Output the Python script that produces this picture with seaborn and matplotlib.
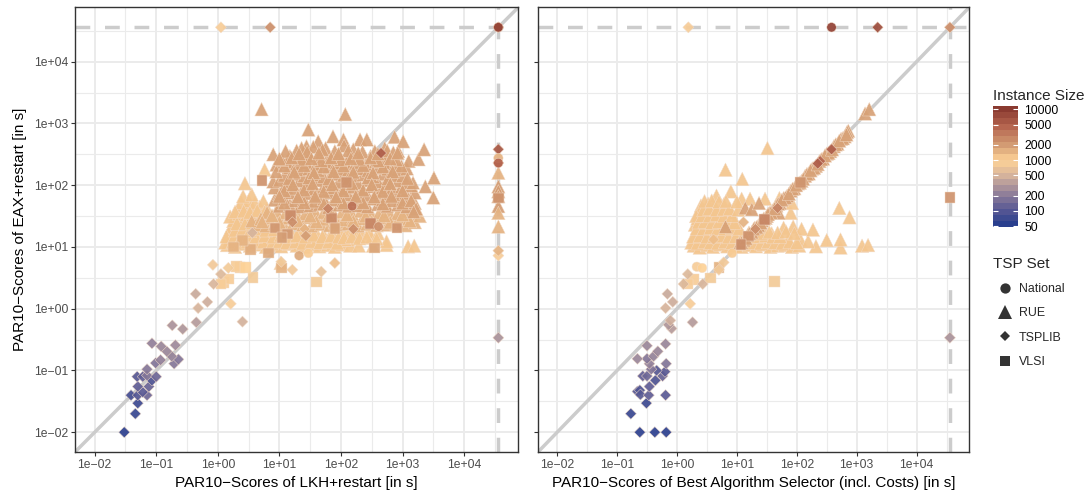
import numpy as np
import pandas as pd
import seaborn as sns
import matplotlib.pyplot as plt
from matplotlib.cm import ScalarMappable
from matplotlib.colors import LinearSegmentedColormap, LogNorm
from matplotlib.lines import Line2D
from matplotlib.ticker import FixedLocator, NullLocator

tick_values = [0.01, 0.1, 1, 10, 100, 1000, 10000]
tick_labels = ['1e\u221202', '1e\u221201', '1e+00', '1e+01', '1e+02', '1e+03', '1e+04']
minor_values = [0.00316, 0.0316, 0.316, 3.16, 31.6, 316, 3160, 31600]
timeout = 36000
size_ticks = [50, 100, 200, 500, 1000, 2000, 5000, 10000]
size_colors = ['#2a3f8e', '#5b5a94', '#8f7e99', '#d6b49c', '#fdd297', '#d49d74', '#b5654f', '#8a3a30']

# left panel, RUE
l_rue_1000_x = [.15, .28, .40, .52, .65, .78, .90, 1.03, 1.15, 1.28, 1.40, 1.53, 1.65, 1.78, 1.90, 2.02, 2.15,
                .20, .33, .45, .58, .72, .85, .98, 1.10, 1.22, 1.35, 1.48, 1.60, 1.73, 1.85, 1.98, 2.12,
                .17, .30, .42, .55, .68, .80, .93, 1.06, 1.20, 1.33, 1.47, 1.60, 1.72, 1.85, 2.00, 2.22,
                .22, .35, .48, .60, .73, .87, 1.00,
                .25, .38, .50, .62, .76, .90,
                .20, .34, .46, .58, .70, .83,
                .33, .45, .55, .68, .80,
                .38, .50, .60, .74,
                .41, .55, .44, .76, 2.29, 2.52, 2.74, 3.09, 3.19, 2.07, 2.50, 2.74, 1.02,
                .12, .24, .36, .48, .60, .74, .88, 1.00, 1.12, 1.26, 1.38, 1.52, 1.66, 1.80, 1.94,
                .14, .27, .38, .50, .62, .76, .90, 1.02, 1.16, 1.28, 1.42, 1.56, 1.70, 1.84, 1.96,
                .28, .40, .52, .66, .78, .92, .31, .44, .56, .70, .82, .28, .42, .52, .64, .76,
                2.10, 2.20, 2.32, 2.45, 2.60, 2.05, 2.18, 2.30, 2.42, 2.58]
l_rue_1000_y = [1.03, 1.00, 1.05, 1.02, 1.04, 1.00, 1.03, 1.01, 1.05, 1.02, 1.00, 1.04, 1.01, 1.03, 1.00, 1.04, 1.02,
                1.12, 1.14, 1.10, 1.13, 1.11, 1.15, 1.12, 1.10, 1.14, 1.12, 1.15, 1.10, 1.13, 1.11, 1.14, 1.12,
                1.22, 1.20, 1.24, 1.21, 1.25, 1.22, 1.20, 1.24, 1.22, 1.25, 1.21, 1.23, 1.20, 1.24, 1.22, 1.21,
                1.32, 1.34, 1.30, 1.33, 1.31, 1.35, 1.32,
                1.42, 1.44, 1.41, 1.45, 1.42, 1.44,
                1.49, 1.54, 1.52, 1.55, 1.51, 1.54,
                1.62, 1.64, 1.61, 1.65, 1.62,
                1.72, 1.75, 1.71, 1.74,
                1.82, 1.85, 2.03, 2.25, 1.02, 1.02, 1.03, 1.01, 1.02, 1.12, 1.15, 1.09, .74,
                1.07, 1.08, 1.06, 1.09, 1.07, 1.08, 1.06, 1.09, 1.07, 1.08, 1.06, 1.09, 1.07, 1.08, 1.06,
                1.17, 1.18, 1.16, 1.19, 1.17, 1.18, 1.16, 1.19, 1.17, 1.18, 1.16, 1.19, 1.17, 1.18, 1.16,
                1.27, 1.28, 1.26, 1.29, 1.27, 1.28, 1.38, 1.37, 1.39, 1.38, 1.37, 1.57, 1.58, 1.56, 1.59, 1.57,
                1.24, 1.26, 1.23, 1.25, 1.22, 1.15, 1.17, 1.14, 1.16, 1.13]
l_rue_1500_x = [.62, .78, .92, 1.08, 1.22, 1.38, 1.52, 1.68, 1.82, 1.98, 2.12, 2.28, 2.42, 2.58, 2.75, 2.90, 3.05, 3.20,
                .55, .70, .85, 1.00, 1.15, 1.30, 1.45, 1.60, 1.75, 1.90, 2.05, 2.20, 2.35, 2.50, 2.65, 2.80, 2.95, 3.10, 3.28,
                .80, .95, 1.10, 1.27, 1.42, 1.58, 1.72, 1.88, 2.02, 2.18, 2.32, 2.48, 2.62, 2.78, 2.92, 3.08, 3.22,
                .72, 1.00, 1.30, 1.60, 1.90, 2.20, 2.50, 2.80, 3.12, .88, 1.18, 1.50, 1.80, 2.10, 2.40, 2.70, 3.00]
l_rue_1500_y = [1.36, 1.34, 1.37, 1.35, 1.38, 1.36, 1.34, 1.37, 1.35, 1.36, 1.38, 1.34, 1.37, 1.35, 1.36, 1.38, 1.35, 1.40,
                1.42, 1.46, 1.48, 1.45, 1.47, 1.44, 1.48, 1.46, 1.45, 1.47, 1.44, 1.48, 1.46, 1.45, 1.47, 1.44, 1.48, 1.46, 1.50,
                1.56, 1.58, 1.55, 1.57, 1.54, 1.58, 1.56, 1.55, 1.57, 1.54, 1.58, 1.56, 1.55, 1.57, 1.54, 1.58, 1.60,
                1.41, 1.40, 1.42, 1.41, 1.40, 1.42, 1.41, 1.40, 1.42, 1.51, 1.52, 1.50, 1.51, 1.52, 1.50, 1.51, 1.52]
l_rue_2000_x = [1.00, 1.17, 1.33, 1.50, 1.65, 1.80, 1.97, 2.12, 2.28, 2.43, 2.60, 2.75, 2.92, 3.07, 3.20,
                .92, 1.08, 1.25, 1.40, 1.57, 1.72, 1.88, 2.03, 2.20, 2.35, 2.52, 2.67, 2.83, 3.00, 3.13,
                1.00, 1.16, 1.32, 1.48, 1.63, 1.80, 1.95, 2.12, 2.27, 2.43, 2.58, 2.75, 2.90, 3.05, 3.20,
                .92, 1.08, 1.24, 1.40, 1.56, 1.72, 1.88, 2.04, 2.20, 2.35, 2.50, 2.67, 2.83, 2.98, 3.14, 3.37,
                .90, 1.00, 1.16, 1.32, 1.48, 1.63, 1.80, 1.96, 2.12, 2.28, 2.44, 2.60, 2.76, 2.92, 3.07, 3.17,
                1.08, 1.24, 1.40, 1.56, 1.72, 1.88, 2.04, 2.20, 2.36, 2.52, 2.68, 2.84, 3.00, 3.51,
                .95, 1.16, 1.32, 1.48, 1.63, 1.80, 1.96, 2.12, 2.28, 2.44, 2.60, 2.76, 2.92, 3.07,
                .95, 1.12, 1.28, 1.44, 1.60, 1.76, 1.92, 2.08, 2.24, 2.40, 2.56, 2.72, 2.88, 3.10,
                .90, 1.17, 1.30, 1.48, 1.65, 1.82, 1.98, 2.14, 2.30, 2.48, 2.70, 2.93, 3.26,
                1.44, 1.47, 1.63, 1.87, 2.04, 2.31, 2.42, 2.71, 2.87, 3.01, 1.36, 1.55, 1.75, 2.05, 2.20,
                3.50, .71, 2.07, 3.35,
                1.08, 1.40, 1.72, 2.04, 2.36, 2.68, 3.00, 1.08, 1.40, 1.72, 2.04, 2.36, 2.68, 3.00,
                1.16, 1.48, 1.80, 2.12, 2.44, 2.76, 3.08, 1.08, 1.40, 1.72, 2.04, 2.36, 2.68, 2.98,
                1.04, 1.36, 1.68, 2.00, 2.30, 2.60, 2.90, 1.10, 1.28, 1.45, 1.70, 1.90, 2.12, 2.35, 2.55, 2.75, 2.85,
                1.24, 1.56, 1.88, 2.20, 2.52, 2.84, 1.00, 1.20, 1.52, 1.84, 2.16, 2.48, 2.80, 1.32, 1.64, 1.96, 2.28, 2.60, 2.92,
                1.22, 1.54, 1.86, 2.18, 2.50, 2.80, 1.00, 1.30, 1.58, 1.92, 2.24, 2.54, 2.82, 3.14, 3.22, 3.18]
l_rue_2000_y = [1.66, 1.68, 1.65, 1.67, 1.69, 1.64, 1.68, 1.66, 1.67, 1.65, 1.69, 1.66, 1.68, 1.65, 1.71,
                1.76, 1.78, 1.75, 1.77, 1.74, 1.78, 1.76, 1.75, 1.77, 1.74, 1.78, 1.76, 1.75, 1.77, 1.79,
                1.86, 1.88, 1.85, 1.87, 1.84, 1.88, 1.86, 1.85, 1.87, 1.84, 1.88, 1.86, 1.85, 1.87, 1.88,
                1.96, 1.98, 1.95, 1.97, 1.94, 1.98, 1.96, 1.95, 1.97, 1.94, 1.98, 1.96, 1.95, 1.97, 1.99, 1.98,
                2.06, 2.08, 2.05, 2.07, 2.04, 2.08, 2.06, 2.05, 2.07, 2.04, 2.08, 2.06, 2.05, 2.07, 2.04, 2.04,
                2.16, 2.18, 2.15, 2.17, 2.14, 2.18, 2.16, 2.15, 2.17, 2.14, 2.18, 2.16, 2.15, 2.12,
                2.33, 2.28, 2.25, 2.27, 2.24, 2.28, 2.26, 2.25, 2.27, 2.24, 2.28, 2.26, 2.25, 2.27,
                2.22, 2.38, 2.35, 2.37, 2.34, 2.38, 2.36, 2.35, 2.37, 2.34, 2.38, 2.36, 2.35, 2.39,
                2.50, 2.47, 2.45, 2.48, 2.46, 2.44, 2.48, 2.46, 2.45, 2.47, 2.46, 2.55, 2.42,
                2.63, 2.90, 2.71, 2.79, 2.74, 2.74, 2.74, 2.60, 2.78, 2.71, 2.60, 2.62, 2.60, 2.64, 2.58,
                1.80, 3.23, 3.15, 2.58,
                1.71, 1.72, 1.70, 1.71, 1.72, 1.70, 1.71, 1.91, 1.92, 1.90, 1.91, 1.92, 1.90, 1.91,
                2.11, 2.12, 2.10, 2.11, 2.12, 2.10, 2.11, 2.31, 2.32, 2.30, 2.31, 2.32, 2.30, 2.31,
                2.41, 2.42, 2.40, 2.41, 2.42, 2.40, 2.41, 2.55, 2.56, 2.54, 2.57, 2.55, 2.56, 2.54, 2.55, 2.56, 2.53,
                2.21, 2.20, 2.22, 2.21, 2.20, 2.22, 2.43, 2.44, 2.43, 2.44, 2.43, 2.44, 2.43, 2.51, 2.52, 2.51, 2.52, 2.51, 2.52,
                2.01, 2.02, 2.01, 2.02, 2.01, 2.02, 1.82, 1.81, 1.82, 1.81, 1.82, 1.81, 1.82, 1.75, 1.62, 1.57]
l_rue_col_y = [2.20, 1.98, 1.90, 1.82, 1.66, 1.55, 1.33]
l_rue_col_size = [1500, 2000, 2000, 2000, 2000, 1500, 1500]

# left panel, other sets
l_tsp_x = [-1.52, -1.34, -1.30, -1.41, -1.30, -1.15, -1.22, -1.30, -1.12, -1.07, -1.31, -1.22, -1.15, -1.00, -1.15,
           -1.01, -.93, -.71, -.64, -.75, -.83, -.92, -1.07, -.69, -.74, -.57, -.35, .40, -.32, -.17, -.36, .21,
           -.07, .05, -.08, .17, 1.03, 1.21, 1.68, 1.90, 1.79, 1.21, 1.41, 2.20, 1.43, .56, 2.65,
           4.556, 4.556, 4.556, 4.556, 4.556, .05, .85, 4.556]
l_tsp_y = [-2.00, -1.70, -1.53, -1.40, -1.40, -1.40, -1.35, -1.26, -1.26, -1.16, -1.10, -1.10, -1.08, -1.10, -.98,
           -.88, -.83, -.89, -.82, -.77, -.69, -.61, -.56, -.59, -.27, -.33, -.22, -.21, .01, .11, .24, .08,
           .40, .56, .71, .66, .76, .63, .60, .74, 1.62, 1.40, 1.29, 1.29, 1.18, 1.23, 2.52,
           -.47, .86, .94, 2.58, 2.36, 4.556, 4.556, 4.556]
l_tsp_size = [52, 62, 66, 75, 90, 130, 100, 110, 120, 85, 95, 110, 170, 130, 180,
              170, 210, 180, 170, 220, 230, 230, 210, 240, 290, 300, 330, 480, 500, 450, 420, 900,
              520, 560, 800, 850, 800, 800, 700, 1300, 3000, 2500, 1500, 2500, 2000, 500, 5500,
              280, 900, 1500, 6500, 5500, 900, 2500, 8000]
l_vlsi_x = [.72, 2.09, 1.18, 1.85, 2.48, 2.91, .93, 1.13, 1.90, 1.04, .36, .09, .18, .57, 1.60, 1.03, 2.54, .53, .82, .30, .45, .40, .25, .05, 4.556]
l_vlsi_y = [2.08, 2.04, 1.51, 1.47, 1.38, 1.31, 1.31, 1.21, 1.30, 1.15, .67, .42, .48, .51, .43, .66, .98, .96, .90, .68, .67, 1.10, 1.00, .40, 1.79]
l_vlsi_size = [2300, 2300, 2700, 2700, 2900, 2300, 2100, 2100, 1900, 2000, 900, 900, 900, 850, 850, 1500, 1800, 1600, 1700, 900, 1000, 1500, 1500, 900, 2300]
l_nat_x = [2.18, 2.61, 1.32, 1.47, 4.556, 4.556, 4.556, 4.556]
l_nat_y = [1.66, 1.33, .86, .90, 2.44, 2.36, 4.556, 4.556]
l_nat_size = [4000, 2400, 1700, 1100, 1500, 5000, 10000, 9000]

# right panel, RUE
r_rue_1000_x = [.28, .38, .50, .60, .72, .84, .96, 1.08, 1.20, 1.32, 1.44, 1.56, 1.68, 1.80, 1.92, 2.04, 2.32, 2.73, 3.09, 3.19,
                .30, .42, .54, .65, .77, .90, 1.02, 1.14, 1.27, 1.38, 1.50, 1.62, 1.74, 1.86, 2.06, 2.19, 2.50, 2.73,
                .33, .44, .56, .68, .80, .94, 1.06, 1.20, 1.33, 1.46, 1.58, 1.78, 1.94, 2.08, 2.27,
                .30, .40, .50, .62, .74, .88, 1.00,
                .34, .46, .56, .70, .82,
                .36, .48, .60, .72, .90, 1.90,
                .40, .52, .62, .78, 1.08, 1.22, 1.47, 1.71, 1.92,
                .66, .90, 1.09, .81, 1.51, 2.71, 2.88,
                .24, .34, .46, .56, .68, .80, .92, 1.04, 1.16, 1.28, 1.40, 1.52, 1.64, 1.76, 1.88, 2.00,
                .27, .38, .50, .62, .74, .86, .98, 1.10, 1.22, 1.34, 1.48, 1.60, 1.72,
                .33, .44, .56, .68, .80, .92, 1.04, .37, .48, .60, .72, .84, .40, .50, .64, .76,
                .36, .46, .58, .70, .84, .96, .32, .42, .54, .66, .78, .92, .44, .54, .66, .78, .88, 1.02,
                .46, .58, .70, .82, 1.00, 1.40, 1.54, 1.68, 1.82, 1.96]
r_rue_1000_y = [1.02, .99, 1.03, 1.00, 1.04, 1.01, 1.02, 1.00, 1.03, 1.01, 1.04, 1.00, 1.02, 1.03, 1.00, 1.02, 1.01, .99, 1.02, 1.03,
                1.12, 1.10, 1.14, 1.11, 1.13, 1.10, 1.14, 1.12, 1.10, 1.13, 1.11, 1.14, 1.10, 1.12, 1.12, 1.09, 1.11, 1.12,
                1.22, 1.25, 1.21, 1.24, 1.22, 1.25, 1.20, 1.23, 1.21, 1.24, 1.22, 1.31, 1.33, 1.29, 1.28,
                1.36, 1.34, 1.38, 1.35, 1.37, 1.33, 1.36,
                1.46, 1.48, 1.44, 1.47, 1.45,
                1.55, 1.57, 1.54, 1.58, 1.56, 1.55,
                1.67, 1.70, 1.66, 1.69, 1.78, 1.78, 1.78, 1.79, 1.71,
                1.83, 1.90, 2.10, 2.25, 2.60, 1.63, 1.48,
                1.07, 1.06, 1.08, 1.07, 1.06, 1.08, 1.07, 1.06, 1.08, 1.07, 1.06, 1.08, 1.07, 1.06, 1.08, 1.07,
                1.17, 1.18, 1.16, 1.17, 1.18, 1.16, 1.17, 1.18, 1.16, 1.17, 1.18, 1.16, 1.17,
                1.30, 1.29, 1.31, 1.30, 1.29, 1.31, 1.30, 1.41, 1.40, 1.42, 1.41, 1.40, 1.61, 1.62, 1.60, 1.61,
                1.40, 1.41, 1.39, 1.41, 1.40, 1.39, 1.50, 1.51, 1.50, 1.52, 1.50, 1.51, 1.60, 1.62, 1.60, 1.61, 1.62, 1.60,
                1.74, 1.75, 1.73, 1.74, 1.73, 1.22, 1.24, 1.23, 1.25, 1.22]
r_rue_2000_x = [1.05, 1.12, 1.18, 1.25, 1.30, 1.36, 1.42, 1.48, 1.54, 1.60, 1.66, 1.72, 1.78, 1.84, 1.90, 1.96, 2.02, 2.08,
                2.14, 2.20, 2.26, 2.32, 2.38, 2.44, 2.50, 2.56, 2.62, 2.68, 2.74, 2.80, 2.86, 3.14, 3.21,
                1.14, 1.25, 1.37, .81, 1.50, 1.70,
                1.08, 1.21, 1.33, 1.45, 1.57, 1.69, 1.81, 1.93, 2.05, 2.17, 2.29, 2.41, 2.53, 2.65, 2.77, 2.84,
                1.15, 1.28, 1.40, 1.52, 1.63, 1.75, 1.87, 1.99, 2.11, 2.23, 2.35, 2.47, 2.59, 2.71, 2.83]
r_rue_2000_y = [1.06, 1.11, 1.19, 1.24, 1.31, 1.35, 1.43, 1.47, 1.55, 1.59, 1.67, 1.71, 1.79, 1.83, 1.91, 1.95, 2.03, 2.07,
                2.15, 2.19, 2.27, 2.31, 2.39, 2.43, 2.51, 2.55, 2.63, 2.67, 2.75, 2.79, 2.88, 3.16, 3.23,
                1.63, 1.61, 1.71, 1.33, 1.50, 1.55,
                1.07, 1.22, 1.32, 1.46, 1.56, 1.70, 1.80, 1.94, 2.04, 2.18, 2.28, 2.42, 2.52, 2.66, 2.76, 2.86,
                1.14, 1.29, 1.39, 1.53, 1.62, 1.76, 1.86, 2.00, 2.10, 2.24, 2.34, 2.48, 2.58, 2.72, 2.82]

# right panel, other sets
r_tsp_x = [-.62, -.37, -.18, -.77, -.51, -.66, -.62, -.61, -.47, -.19, -.46, -.36, -.57, -.50, -.24, -.20, -.34, -.43,
           -.18, -.46, -.50, -.66, -.39, -.32, -.50, -.19, -.09, -.14, -.11, .26, -.19, -.07, -.16, .22, .43, .11, .18,
           .70, .78, 2.58, 2.39, 2.35, 1.68, 1.31, .61, 1.11, .19, 3.35, 4.556, 4.556]
r_tsp_y = [-2.00, -2.00, -2.00, -1.70, -1.53, -1.34, -1.32, -1.39, -1.40, -1.40, -1.26, -1.16, -1.09, -1.09, -1.09, -1.02, -1.00, -.98,
           -.89, -.89, -.81, -.81, -.77, -.69, -.60, -.57, -.32, -.26, -.19, -.22, .01, .11, .24, .08, .40, .40, .56,
           .63, .75, 2.58, 2.39, 2.35, 1.63, 1.29, 1.12, 1.40, 4.556, 4.556, 4.556, -.47]
r_tsp_size = [52, 52, 52, 62, 66, 90, 85, 95, 110, 100, 110, 85, 110, 130, 120, 100, 95, 170,
              170, 210, 180, 230, 220, 230, 230, 230, 330, 300, 450, 330, 500, 450, 420, 900, 520, 560, 560,
              800, 800, 5500, 5000, 5500, 3000, 2500, 1300, 1500, 900, 8000, 2500, 280]
r_vlsi_x = [.56, .28, .18, 1.63, .70, 2.06, 1.46, 1.19, 1.07, 4.556]
r_vlsi_y = [.50, .47, .40, .44, .67, 2.04, 1.44, 1.18, 1.04, 1.80]
r_vlsi_size = [850, 900, 900, 850, 1500, 2300, 2900, 2300, 2500, 2300]
r_nat_x = [.33, .42, .92, 2.58]
r_nat_y = [.68, .66, .90, 4.556]
r_nat_size = [900, 1000, 1100, 10000]

marker_map = {'National': 'o', 'RUE': '^', 'TSPLIB': 'D', 'VLSI': 's'}
size_map = {'National': 46, 'RUE': 95, 'TSPLIB': 32, 'VLSI': 58}
legend_sizes = {'National': 7.4, 'RUE': 9.4, 'TSPLIB': 5.0, 'VLSI': 7.2}


def frame(x, y, size, tsp):
    return pd.DataFrame({'x': 10 ** np.array(x, dtype=float), 'y': 10 ** np.array(y, dtype=float),
                         'size': size, 'set': tsp})


left = pd.concat([
    frame(l_rue_1000_x, l_rue_1000_y, 1150, 'RUE'),
    frame(l_rue_1500_x, l_rue_1500_y, 1500, 'RUE'),
    frame(l_rue_2000_x, l_rue_2000_y, 1850, 'RUE'),
    frame([4.556] * len(l_rue_col_y), l_rue_col_y, l_rue_col_size, 'RUE'),
    frame(l_vlsi_x, l_vlsi_y, l_vlsi_size, 'VLSI'),
    frame(l_tsp_x, l_tsp_y, l_tsp_size, 'TSPLIB'),
    frame(l_nat_x, l_nat_y, l_nat_size, 'National'),
])
right = pd.concat([
    frame(r_rue_1000_x, r_rue_1000_y, 1150, 'RUE'),
    frame(r_rue_2000_x, r_rue_2000_y, 1850, 'RUE'),
    frame(r_vlsi_x, r_vlsi_y, r_vlsi_size, 'VLSI'),
    frame(r_tsp_x, r_tsp_y, r_tsp_size, 'TSPLIB'),
    frame(r_nat_x, r_nat_y, r_nat_size, 'National'),
])

sns.set_style('white')
plt.rcParams['font.family'] = ['Liberation Sans', 'DejaVu Sans']

W, H = 1089, 493
size_lo, size_hi = 48, 11650
size_norm = LogNorm(size_lo, size_hi)
cmap = LinearSegmentedColormap.from_list(
    'tsp', [(float(size_norm(0.0 + v)), c) for v, c in zip([size_lo] + size_ticks[1:-1] + [size_hi], size_colors)])

fig = plt.figure(figsize=(W / 100, H / 100), dpi=100)
ax1 = fig.add_axes([75 / W, 41 / H, 443 / W, 445 / H])
ax2 = fig.add_axes([538 / W, 41 / H, 431 / W, 445 / H])

for ax, data in [(ax1, left), (ax2, right)]:
    ax.set_xscale('log')
    ax.set_yscale('log')
    sns.scatterplot(data=data, x='x', y='y', hue='size', hue_norm=size_norm, palette=cmap,
                    style='set', markers=marker_map, size='set', sizes=size_map,
                    alpha=0.93, linewidth=0.35, edgecolor='#f3dcc8', legend=False, ax=ax, zorder=3)
    ax.set_xlim(10 ** -2.32, 10 ** 4.875)
    ax.set_ylim(10 ** -2.32, 10 ** 4.885)
    ax.plot([1e-3, 1e6], [1e-3, 1e6], color='#cccccc', lw=2.5, zorder=2)
    ax.axhline(timeout, color='#cccccc', lw=2.5, dashes=(4.25, 4.25), zorder=2)
    ax.axvline(timeout, color='#cccccc', lw=2.5, dashes=(4.25, 4.25), zorder=2)
    for axis in (ax.xaxis, ax.yaxis):
        axis.set_major_locator(FixedLocator(tick_values))
        axis.set_minor_locator(FixedLocator(minor_values))
    ax.set_xticklabels(tick_labels)
    ax.set_yticklabels(tick_labels)
    ax.grid(True, which='major', color='#ebebeb', lw=1.4)
    ax.grid(True, which='minor', color='#ebebeb', lw=0.8)
    ax.set_axisbelow(True)
    ax.tick_params(which='major', length=3, width=0.8, color='#333333', labelcolor='#4d4d4d',
                   labelsize=8.7, left=True, bottom=True, pad=2)
    ax.tick_params(which='minor', length=0)
    for spine in ax.spines.values():
        spine.set_color('#333333')
        spine.set_linewidth(1.0)

ax2.tick_params(axis='y', labelleft=False)
ax1.set_xlabel('PAR10\u2212Scores of LKH+restart [in s]', fontsize=11, color='black', labelpad=3.5)
ax2.set_xlabel('PAR10\u2212Scores of Best Algorithm Selector (incl. Costs) [in s]', fontsize=11, color='black', labelpad=3.5)
ax1.set_ylabel('PAR10\u2212Scores of EAX+restart [in s]', fontsize=11, color='black', labelpad=4.5)
ax2.set_ylabel('')

# colour bar with white ticks inside
cax = fig.add_axes([993 / W, (H - 227) / H, 25 / W, 121 / H])
cb = fig.colorbar(ScalarMappable(norm=size_norm, cmap=cmap.resampled(20)), cax=cax)
cb.outline.set_visible(False)
cb.set_ticks(size_ticks)
cb.set_ticklabels([str(v) for v in size_ticks])
cax.yaxis.set_minor_locator(NullLocator())
cax.tick_params(which='major', length=0, labelsize=8.7, pad=4.5, labelcolor='black')
trans = cax.get_yaxis_transform()
cax.hlines(size_ticks, 0, 0.2, color='white', lw=0.8, transform=trans)
cax.hlines(size_ticks, 0.8, 1, color='white', lw=0.8, transform=trans)
fig.text(993 / W, 1 - 96 / H, 'Instance Size', fontsize=11, va='center', ha='left')

handles = [Line2D([], [], ls='', marker=marker_map[k], color='#333333', markeredgewidth=0,
                  markersize=legend_sizes[k], label=k) for k in marker_map]
leg = fig.legend(handles=handles, title='TSP Set', loc='upper left', bbox_to_anchor=(982 / W, 1 - 245.5 / H),
                 frameon=False, fontsize=8.9, title_fontsize=11, labelspacing=1.0,
                 handletextpad=0.1, alignment='left', borderpad=0.4)

fig.savefig('out.png', dpi=100)
